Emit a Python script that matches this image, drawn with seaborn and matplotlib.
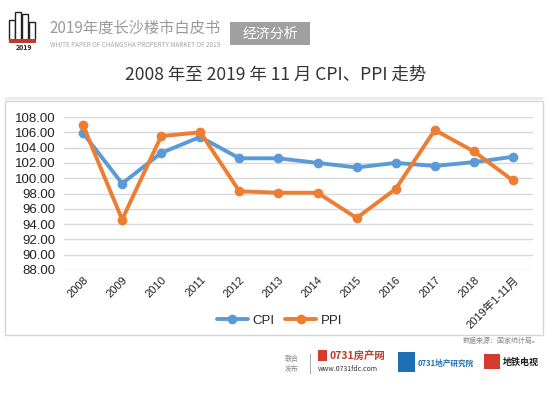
import matplotlib
matplotlib.use("Agg")
import matplotlib.pyplot as plt
import matplotlib.patches as mpatches
import pandas as pd
import seaborn as sns

# data
years = ["2008", "2009", "2010", "2011", "2012", "2013", "2014",
         "2015", "2016", "2017", "2018", "2019年1-11月"]
cpi = [105.9, 99.3, 103.3, 105.4, 102.6, 102.6, 102.0, 101.4, 102.0, 101.6, 102.1, 102.8]
ppi = [106.9, 94.6, 105.5, 106.0, 98.3, 98.1, 98.1, 94.8, 98.6, 106.3, 103.5, 99.7]
y_ticks = [88, 90, 92, 94, 96, 98, 100, 102, 104, 106, 108]

title = "2008 年至 2019 年 11 月 CPI、PPI 走势"
colors = {"CPI": "#5B9BD5", "PPI": "#ED7D31"}

df = pd.DataFrame({"year": years * 2,
                   "value": cpi + ppi,
                   "series": ["CPI"] * len(years) + ["PPI"] * len(years)})

sns.set_style("white")
plt.rcParams["font.family"] = ["Noto Sans CJK SC", "DejaVu Sans"]
tick_font = ["Liberation Sans", "Noto Sans CJK SC"]

W, H = 557, 393
fig = plt.figure(figsize=(W / 100, H / 100), dpi=100)

def fx(px):
    return px / W

def fy(py):
    return 1 - py / H

def box(x, y, w, h, **kw):
    # x, y = top-left corner in pixels
    fig.patches.append(mpatches.Rectangle((fx(x), fy(y + h)), fx(w), h / H,
                                          transform=fig.transFigure, **kw))

# header
fig.text(fx(49), fy(28), "2019年度长沙楼市白皮书", fontsize=11, color="#9a9a9a", va="center")
fig.text(fx(50), fy(45), "WHITE PAPER OF CHANGSHA PROPERTY MARKET OF 2019",
         fontsize=4.6, color="#a5a5a5", va="center")
box(230, 22, 80, 23, facecolor="#a0a0a0", edgecolor="none")
fig.text(fx(270), fy(34), "经济分析", fontsize=10, color="white", ha="center", va="center")
# small logo
for x0, top in [(9, 20), (15, 12), (22, 14), (29, 22)]:
    box(x0, top, 6, 40 - top, facecolor="white", edgecolor="#222222", linewidth=1)
box(9, 39, 27, 4, facecolor="#c0392b", edgecolor="none")
fig.text(fx(24), fy(48), "2019", fontsize=5, color="#222222", ha="center", va="center", weight="bold")

# title and frame
fig.text(fx(276), fy(75), title, fontsize=12.6, color="#333333", ha="center", va="center")
box(5, 101, 538, 234, facecolor="none", edgecolor="#d6d6d6", linewidth=1)
box(5, 97, 538, 3, facecolor="#ececec", edgecolor="none")

ax = fig.add_axes([fx(63.5), fy(270), fx(469), 153 / H])
sns.lineplot(data=df, x="year", y="value", hue="series", palette=colors, marker="o",
             markersize=7, markeredgewidth=0, linewidth=2.8, sort=False, ax=ax)
ax.set_ylim(88, 108)
ax.set_xlim(-0.5, len(years) - 0.5)
ax.set_yticks(y_ticks)
ax.set_yticklabels([f"{v:.2f}" for v in y_ticks], family=tick_font, fontsize=9.5)
ax.yaxis.grid(True, color="#d9d9d9", linewidth=1)
ax.set_axisbelow(True)
for s in ax.spines.values():
    s.set_visible(False)
ax.tick_params(axis="both", length=0, colors="#222222")
ax.tick_params(axis="y", pad=6)
plt.setp(ax.get_xticklabels(), rotation=45, ha="right", rotation_mode="anchor",
         fontsize=8, family=tick_font)
ax.set_xlabel("")
ax.set_ylabel("")
ax.legend(loc="center", bbox_to_anchor=(0.46, -0.33), ncol=2, frameon=False,
          handlelength=2.4, columnspacing=0.8, handletextpad=0.3,
          prop={"family": tick_font, "size": 9.5})

# footer
fig.text(fx(540), fy(341), "数据来源：国家统计局。", fontsize=5, color="#888888", ha="right", va="center")
fig.text(fx(292), fy(364), "联合\n发布", fontsize=5, color="#888888", ha="center", va="center", linespacing=1.5)
box(310, 354, 1, 20, facecolor="#aaaaaa", edgecolor="none")
box(318, 350, 9, 11, facecolor="#d63a2f", edgecolor="none")
fig.text(fx(329), fy(356), "0731房产网", fontsize=7.5, color="#c0392b", va="center", weight="bold")
fig.text(fx(318), fy(369), "www.0731fdc.com", fontsize=5, color="#333333", va="center")
box(398, 352, 17, 20, facecolor="#1f6fb5", edgecolor="none")
fig.text(fx(418), fy(363), "0731地产研究院", fontsize=5.5, color="#1f6fb5", va="center", weight="bold")
box(484, 354, 16, 15, facecolor="#d63a2f", edgecolor="none")
fig.text(fx(503), fy(362), "地铁电视", fontsize=6.5, color="#222222", va="center", weight="bold")

fig.savefig("out.png", dpi=100)
